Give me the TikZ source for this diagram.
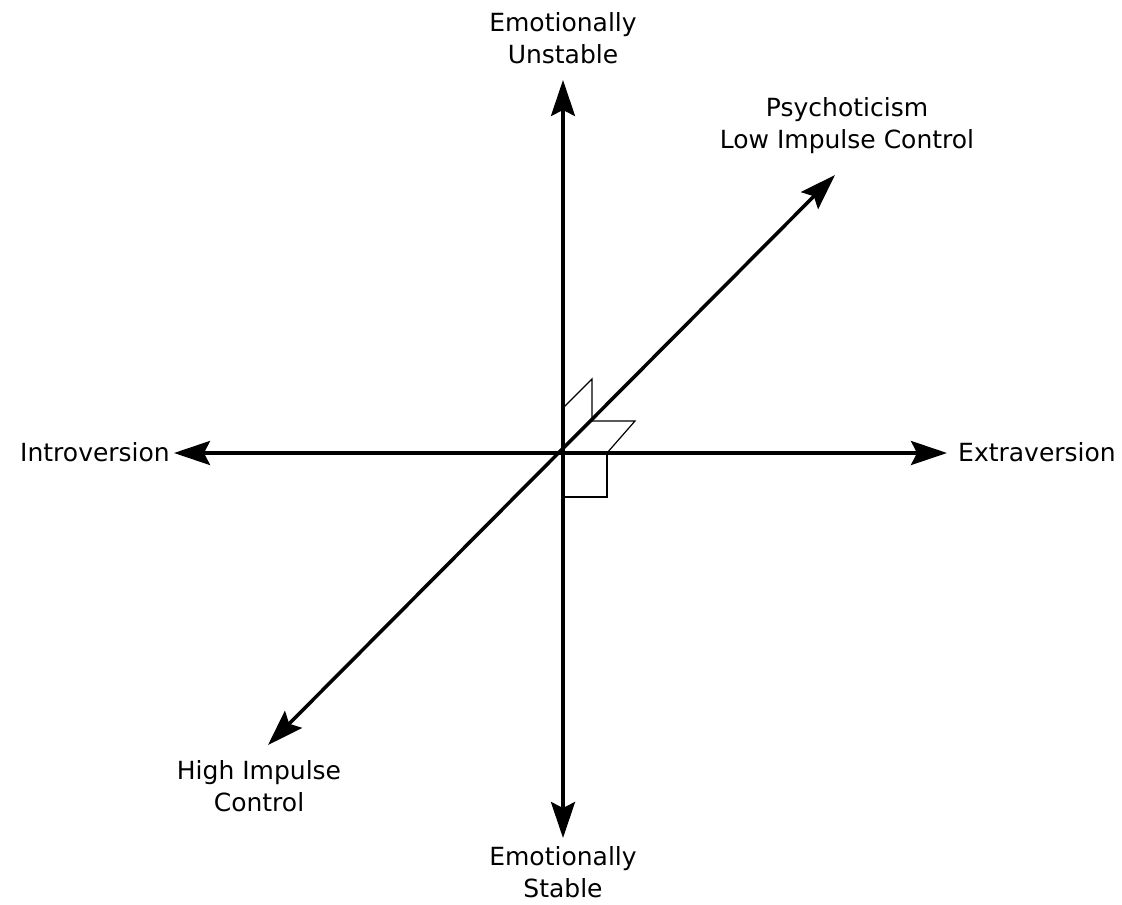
\documentclass[tikz,border=0pt]{standalone}
\usepackage{fontspec}
\setmainfont{DejaVu Sans}
\usetikzlibrary{arrows.meta}
\begin{document}
\begin{tikzpicture}[
      x=1pt, y=-1pt,
      etiq/.style={align=center, inner sep=0pt, font=\fontsize{25}{32}\selectfont},
      eje/.style={{Stealth[length=36pt,width=24pt,inset=6pt]}-{Stealth[length=36pt,width=24pt,inset=6pt]}, line width=3.5pt},
      marca/.style={line width=1.2pt}
    ]
    \useasboundingbox (0,0) rectangle (1122,905);

    \coordinate (o) at (563,453);
    \coordinate (arriba) at (563,80);
    \coordinate (abajo) at (563,838);
    \coordinate (izq) at (174,453);
    \coordinate (der) at (947,453);
    \coordinate (diagsup) at (835,175);
    \coordinate (diaginf) at (268,745);

    \node[etiq] (inestable) at (563,38) {Emotionally\\ Unstable};
    \node[etiq] (estable) at (563,872) {Emotionally\\ Stable};
    \node[etiq, anchor=east] (intro) at (170,452) {Introversion};
    \node[etiq, anchor=west] (extra) at (958,452) {Extraversion};
    \node[etiq] (psico) at (847,126) {Psychoticism\\ Low Impulse Control};
    \node[etiq] (control) at (259,786) {High Impulse\\ Control};

    \draw[eje] (abajo) -- (arriba);
    \draw[eje] (izq) -- (der);
    \draw[eje] (diaginf) -- (diagsup);

    % angulos rectos
    \draw[marca] (563,408) -- (592,379) -- (592,421);
    \draw[marca] (592,421) -- (635,421) -- (607,453);
    \draw[marca] (607,453) -- (607,497) -- (563,497);
  \end{tikzpicture}
\end{document}
